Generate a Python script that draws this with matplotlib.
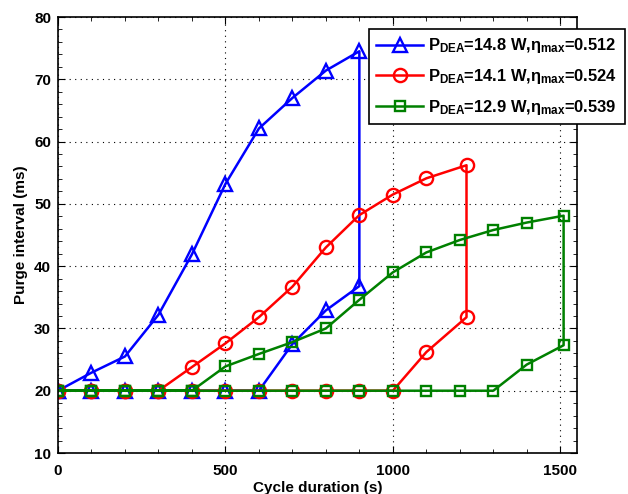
import matplotlib
matplotlib.use("Agg")
import matplotlib.pyplot as plt
from matplotlib.ticker import MultipleLocator

plt.rcParams['font.family'] = ['Liberation Sans', 'DejaVu Sans']
plt.rcParams['font.weight'] = 'bold'
plt.rcParams['mathtext.fontset'] = 'custom'
plt.rcParams['mathtext.rm'] = 'Liberation Sans:bold'
plt.rcParams['mathtext.it'] = 'Liberation Sans:bold'
plt.rcParams['mathtext.bf'] = 'Liberation Sans:bold'

# Series 1 (blue): upper branch then drop then lower branch back
x_blue = [0, 100, 200, 300, 400, 500, 600, 700, 800, 900,
          900, 800, 700, 600, 500, 400, 300, 200, 100, 0]
y_blue = [20, 22.9, 25.5, 32.2, 41.9, 53.2, 62.1, 67.0, 71.4, 74.5,
          36.8, 32.9, 27.5, 20, 20, 20, 20, 20, 20, 20]

# Series 2 (red)
x_red = [0, 100, 200, 300, 400, 500, 600, 700, 800, 900, 1000, 1100, 1220,
         1220, 1100, 1000, 900, 800, 700, 600, 500, 400, 300, 200, 100, 0]
y_red = [20, 20, 20, 20, 23.8, 27.6, 31.8, 36.7, 43.0, 48.2, 51.5, 54.1, 56.2,
         31.8, 26.2, 20, 20, 20, 20, 20, 20, 20, 20, 20, 20, 20]

# Series 3 (green)
x_green = [0, 100, 200, 300, 400, 500, 600, 700, 800, 900, 1000, 1100, 1200, 1300, 1400, 1510,
           1510, 1400, 1300, 1200, 1100, 1000, 900, 800, 700, 600, 500, 400, 300, 200, 100, 0]
y_green = [20, 20, 20, 20, 20, 23.9, 25.9, 27.8, 30.0, 34.6, 39.0, 42.2, 44.2, 45.8, 47.0, 48.1,
           27.3, 24.2, 20, 20, 20, 20, 20, 20, 20, 20, 20, 20, 20, 20, 20, 20]

labels = [r'P$_{\mathrm{DEA}}$=14.8 W,$\eta_{\mathrm{max}}$=0.512',
          r'P$_{\mathrm{DEA}}$=14.1 W,$\eta_{\mathrm{max}}$=0.524',
          r'P$_{\mathrm{DEA}}$=12.9 W,$\eta_{\mathrm{max}}$=0.539']

fig = plt.figure(figsize=(6.28, 4.94), dpi=100)
ax = fig.add_axes([58/628, 1-453/494, (577-58)/628, (453-17)/494])

ax.plot(x_blue, y_blue, color='#0000ff', lw=1.8, marker='^', ms=10, mfc='none', mew=1.7, label=labels[0])
ax.plot(x_red, y_red, color='#ff0000', lw=1.8, marker='o', ms=9.5, mfc='none', mew=1.7, label=labels[1])
ax.plot(x_green, y_green, color='#008000', lw=1.8, marker='s', ms=7, mfc='none', mew=1.7, label=labels[2])

ax.set_xlim(0, 1550)
ax.set_ylim(10, 80)
ax.xaxis.set_major_locator(MultipleLocator(500))
ax.xaxis.set_minor_locator(MultipleLocator(100))
ax.yaxis.set_major_locator(MultipleLocator(10))
ax.yaxis.set_minor_locator(MultipleLocator(2))
ax.tick_params(which='both', direction='in', top=True, right=True, labelsize=11)
ax.tick_params(which='major', length=5)
ax.tick_params(which='minor', length=3)
ax.tick_params(axis='x', which='major', pad=8)
ax.tick_params(axis='y', which='major', pad=5)
for lab in ax.get_xticklabels() + ax.get_yticklabels():
    lab.set_fontweight('bold')
ax.grid(True, which='major', linestyle=(0, (1, 4)), color='black', lw=0.8)
for s in ax.spines.values():
    s.set_linewidth(1.2)

ax.set_xlabel('Cycle duration (s)', fontsize=11, fontweight='bold', labelpad=2)
ax.set_ylabel('Purge interval (ms)', fontsize=11, fontweight='bold', labelpad=4)

leg = ax.legend(loc='upper left', bbox_to_anchor=(369/628, 1-29/494),
                bbox_transform=fig.transFigure, fontsize=11.9, frameon=True, fancybox=False,
                edgecolor='black', framealpha=1, handlelength=2.8, borderaxespad=0,
                labelspacing=0.7, borderpad=0.45, handletextpad=0.35)
leg.get_frame().set_linewidth(1.2)

fig.savefig('out.png', dpi=100)
